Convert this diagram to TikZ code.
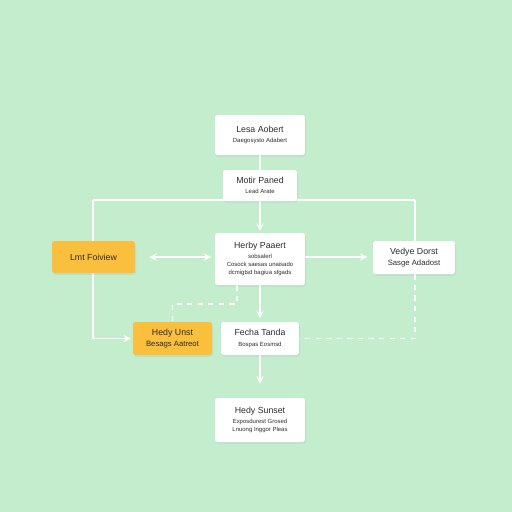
\documentclass[tikz,border=0pt]{standalone}
\usepackage{fontspec}
\setmainfont{Liberation Sans}
\usepackage{xcolor}
\usepackage{tikz}
\usetikzlibrary{shadows}
\definecolor{mint}{RGB}{195,237,205}
\definecolor{amber}{RGB}{251,191,62}
\definecolor{ink}{RGB}{45,45,45}
\pgfdeclarelayer{bg}
\pgfdeclarelayer{wires}
\pgfsetlayers{bg,wires,main}
\newcommand{\ttl}[1]{{\fontsize{5}{6}\selectfont #1}}
\newcommand{\mdl}[1]{{\fontsize{4.4}{5}\selectfont #1}}

\begin{document}
\begin{tikzpicture}[x=0.02cm, y=-0.02cm, >=stealth, line width=0.85pt,
		card/.style={draw=none, fill=white, rounded corners=1.5pt, align=center, text=ink,
			font=\fontsize{3.4}{4.4}\selectfont,
			inner sep=0pt, drop shadow={opacity=0.10, shadow xshift=0.6pt, shadow yshift=-1pt}},
		gold/.style={card, fill=amber},
		wire/.style={white, line width=0.85pt}]
		\begin{pgfonlayer}{bg}
			\fill[mint] (0,0) rectangle (512,512);
		\end{pgfonlayer}
		\useasboundingbox (0,0) rectangle (512,512);

		\node[card, minimum width=1.8cm, minimum height=0.8cm] at (260,135) (lead) {\ttl{Lesa Aobert}\\[1.5pt] Daegosysto Adabert};
		\node[card, minimum width=1.48cm, minimum height=0.62cm] at (260,185.5) (motor) {\ttl{Motir Paned}\\[1.5pt] Lead Arate};
		\node[card, minimum width=1.8cm, minimum height=1.04cm] at (260,259) (hub) {\ttl{Herby Paaert}\\[1.2pt] sobsalerl\\ Cosock saesas unaisado\\ dcmigtsd bagiua sfgads};
		\node[gold, minimum width=1.66cm, minimum height=0.64cm] at (93.5,257) (fview) {\ttl{Lmt Foiview}};
		\node[card, minimum width=1.64cm, minimum height=0.66cm] at (414,257.5) (vedye) {\ttl{Vedye Dorst}\\[1.5pt] \mdl{Sasge Adadost}};
		\node[gold, minimum width=1.58cm, minimum height=0.66cm] at (172.5,338.5) (unst) {\ttl{Hedy Unst}\\[1.5pt] \mdl{Besags Aatreot}};
		\node[card, minimum width=1.56cm, minimum height=0.66cm] at (260,338.5) (tanda) {\ttl{Fecha Tanda}\\[1.5pt] Bospas Eosmsd};
		\node[card, minimum width=1.8cm, minimum height=0.88cm] at (260,420) (sunset) {\ttl{Hedy Sunset}\\[1.5pt] Exposdurest Grosed\\ Lnuong Inggor Pleas};

		\coordinate (tl) at (93,200);
		\coordinate (tr) at (415,200);
		\coordinate (knee) at (237,304);

		\begin{pgfonlayer}{wires}
			\draw[wire] (lead) -- (motor);
			\draw[wire] (tl) -- (tr);
			\draw[wire, ->] (tl) -- (tl |- unst.west) -- ([xshift=-1pt]unst.west);
			\draw[wire] (tr) -- (tr |- vedye.north);
			\draw[wire, dashed] (tr |- vedye.south) -- (tr |- tanda.east) -- (tanda.east);
			\draw[wire, ->] (motor) -- ([yshift=1pt]hub.north);
			\draw[wire, <->] ([xshift=8pt]fview.east) -- ([xshift=-2pt]fview.east -| hub.west);
			\draw[wire, ->] (fview.east -| hub.east) -- ([xshift=-3pt]fview.east -| vedye.west);
			\draw[wire, ->] (hub.south) -- ([yshift=2pt]tanda.north);
			\draw[wire, dashed] (knee |- hub.south) -- (knee) -- (knee -| unst.north) -- (unst.north);
			\draw[wire, ->] (tanda.south) -- ([yshift=8pt]sunset.north);
		\end{pgfonlayer}
	\end{tikzpicture}
\end{document}
